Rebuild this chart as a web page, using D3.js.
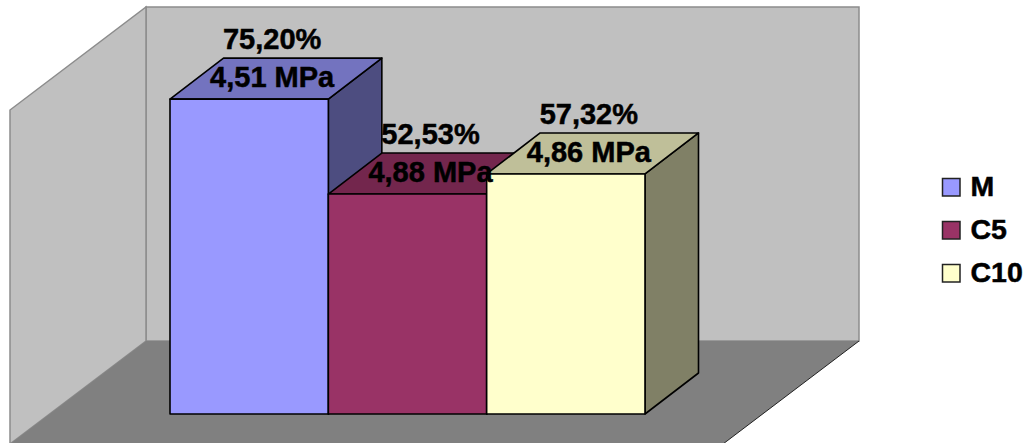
<!DOCTYPE html>
<html>
<head>
<meta charset="utf-8">
<script src="https://d3js.org/d3.v7.min.js"></script>
<style>
  html, body { margin: 0; padding: 0; background: #fff; overflow: hidden; }
  svg { display: block; }
  text { font-family: "Liberation Sans", Arial, sans-serif; font-weight: bold; fill: #000; stroke: #000; stroke-width: 0.5px; }
</style>
</head>
<body>
<svg id="chart" width="1028" height="443"></svg>
<script>
// Compressive strength and relative gain for each mix
const categories = ["M", "C5", "C10"];
const percentValues = [75.20, 52.53, 57.32];
const strengthValues = [4.51, 4.88, 4.86];
const seriesColors = ["#9999FF", "#993366", "#FFFFCC"];

const svg = d3.select("#chart");

// Front plane of the bars; the depth vectors project it into the oblique view
const x = d3.scaleBand().domain(categories).range([170, 645]).padding(0);
const y = d3.scaleLinear().domain([0, 80]).range([414, 79]);
const barDepth = { dx: 53.5, dy: -41 };
const roomDepth = { dx: 136, dy: -103 };

// Room extents: the back wall spans this plane, the side wall and floor run forward from it
const back = { left: 146, right: 859, top: 7, bottom: 341 };

const shade = (c, k) => {
  const r = d3.rgb(c);
  return d3.rgb(r.r * k, r.g * k, r.b * k).formatHex();
};
const poly = pts => d3.line()(pts) + "Z";

const room = svg.append("g");
const wallFill = "#C0C0C0", wallEdge = "#8C8C8C";

room.append("path")
  .attr("d", poly([
    [back.left, back.top], [back.right, back.top],
    [back.right, back.bottom], [back.left, back.bottom]
  ]))
  .attr("fill", wallFill).attr("stroke", wallEdge).attr("stroke-width", 1.5);

room.append("path")
  .attr("d", poly([
    [back.left, back.top], [back.left, back.bottom],
    [back.left - roomDepth.dx, back.bottom - roomDepth.dy],
    [back.left - roomDepth.dx, back.top - roomDepth.dy]
  ]))
  .attr("fill", wallFill).attr("stroke", wallEdge).attr("stroke-width", 1.5);

room.append("path")
  .attr("d", poly([
    [back.left, back.bottom], [back.right, back.bottom],
    [back.right - roomDepth.dx, back.bottom - roomDepth.dy],
    [back.left - roomDepth.dx, back.bottom - roomDepth.dy]
  ]))
  .attr("fill", "#808080");

// Dark hairline along the floor's right edge
room.append("line")
  .attr("x1", back.right).attr("y1", back.bottom)
  .attr("x2", back.right - roomDepth.dx).attr("y2", back.bottom - roomDepth.dy)
  .attr("stroke", "#222").attr("stroke-width", 1);

// Bars, drawn left to right so each one covers the side of the previous
const bars = svg.append("g")
  .selectAll("g")
  .data(categories)
  .join("g")
  .attr("stroke", "#000")
  .attr("stroke-width", 1.6)
  .attr("stroke-linejoin", "round");

bars.each(function (cat, i) {
  const g = d3.select(this);
  const x0 = x(cat), x1 = x0 + x.bandwidth();
  const yTop = y(percentValues[i]), yBase = y(0);
  const { dx, dy } = barDepth;
  const color = seriesColors[i];

  g.append("path")
    .attr("d", poly([[x1, yTop], [x1 + dx, yTop + dy], [x1 + dx, yBase + dy], [x1, yBase]]))
    .attr("fill", shade(color, 0.5));
  g.append("path")
    .attr("d", poly([[x0, yTop], [x0 + dx, yTop + dy], [x1 + dx, yTop + dy], [x1, yTop]]))
    .attr("fill", shade(color, 0.75));
  g.append("rect")
    .attr("x", x0).attr("y", yTop)
    .attr("width", x.bandwidth()).attr("height", yBase - yTop)
    .attr("fill", color);
});

// Value labels sit above all bars, centred over each bar's top face
const labelSize = 29;
const comma = v => v.toFixed(2).replace(".", ",");
const labels = svg.append("g")
  .attr("text-anchor", "middle")
  .style("font-size", labelSize + "px");

categories.forEach((cat, i) => {
  const cx = x(cat) + x.bandwidth() / 2 + 23;
  const yTop = y(percentValues[i]);
  labels.append("text").attr("x", cx).attr("y", yTop - 50).text(comma(percentValues[i]) + "%");
  labels.append("text").attr("x", cx).attr("y", yTop - 12).text(comma(strengthValues[i]) + " MPa");
});

// Legend
const legendRow = d3.scalePoint().domain(categories).range([196, 282]);
const legend = svg.append("g")
  .selectAll("g")
  .data(categories)
  .join("g")
  .attr("transform", d => `translate(0,${legendRow(d)})`);

legend.append("rect")
  .attr("x", 942.5).attr("y", -17.5)
  .attr("width", 17.5).attr("height", 17.5)
  .attr("fill", (d, i) => seriesColors[i])
  .attr("stroke", "#222").attr("stroke-width", 1.5);

legend.append("text")
  .attr("x", 970.5).attr("y", 0)
  .style("font-size", "28.5px")
  .text(d => d);
</script>
</body>
</html>
